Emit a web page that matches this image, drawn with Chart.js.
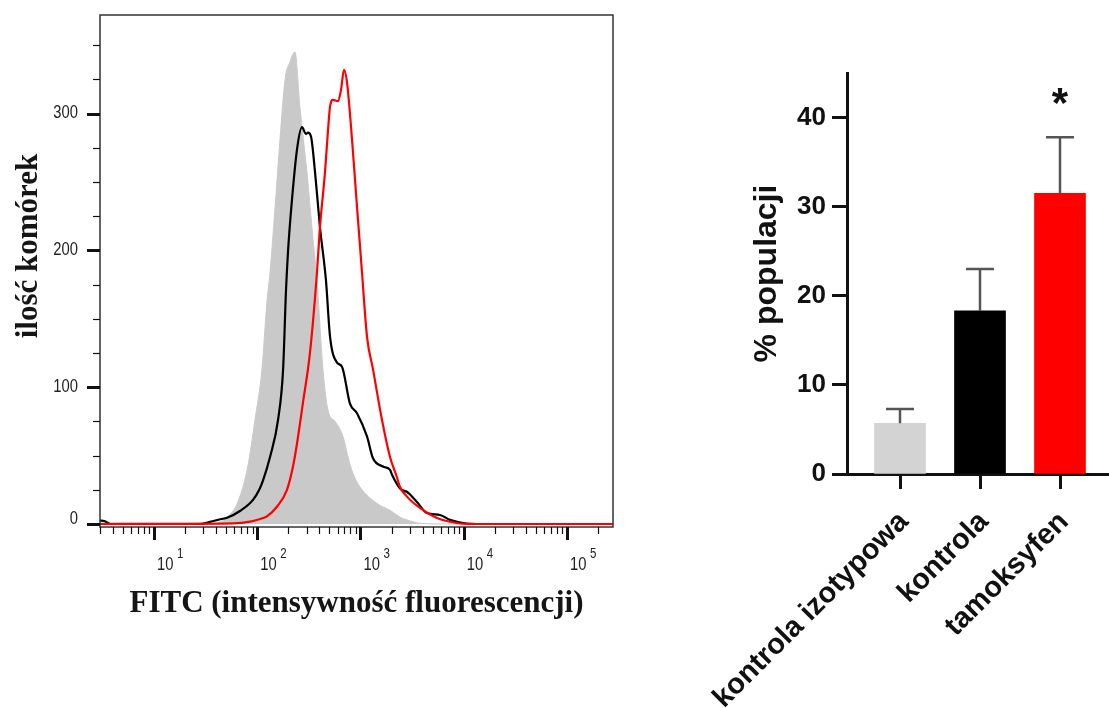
<!DOCTYPE html>
<html>
<head>
<meta charset="utf-8">
<script src="https://cdn.jsdelivr.net/npm/chart.js@4.4.1/dist/chart.umd.min.js"></script>
<style>
  html, body { margin: 0; padding: 0; background: #fff; }
  body { width: 1109px; height: 708px; position: relative; overflow: hidden; }
  #histBox { position: absolute; left: 0; top: 0; width: 640px; height: 708px; }
  #barBox { position: absolute; left: 680px; top: 0; width: 429px; height: 708px; }
</style>
</head>
<body>
<div id="histBox"><canvas id="histChart"></canvas></div>
<div id="barBox"><canvas id="barChart"></canvas></div>
<script>
// --- histogram (FITC intensity vs number of cells) ---
var isoX = [3, 28, 35, 44, 51, 64, 80, 95, 111, 124, 133, 149, 166, 186, 208, 232, 259, 303, 347, 379, 433, 485, 567, 677, 757, 846, 989, 1446, 1932, 2415, 2820, 3767, 5893, 279000];
var isoY = [0, 0, 0, 1.5, 5, 15, 40, 76, 113, 162, 184, 232, 281, 325, 338, 345, 305, 257, 208, 178, 113, 83, 75, 64, 49, 37, 27, 15, 10, 5, 3, 0.5, 0, 0];

var ctrlX = [3, 3.3, 3.8, 28, 35, 44, 51, 68, 91, 106, 114, 133, 159, 178, 190, 199, 217, 243, 271, 297, 310, 332, 363, 405, 463, 507, 592, 662, 791, 925, 1156, 1322, 1652, 1932, 2020, 2415, 2885, 3525, 4404, 5893, 7362, 9840, 15360, 279000];
var ctrlY = [2.5, 2.2, 0, 0, 1.5, 3.5, 4.5, 9.5, 17.6, 26, 32, 49, 76, 113, 171, 200, 237, 274, 290, 285, 286, 283, 257, 217, 178, 137, 118, 115, 88, 81, 64, 48, 42, 39.5, 36, 26, 23, 16, 8, 6.6, 3, 0.7, 0, 0];

var tamX = [3, 58, 85, 114, 124, 155, 194, 222, 243, 277, 324, 379, 405, 453, 485, 507, 542, 605, 650, 692, 740, 828, 925, 1034, 1156, 1322, 1616, 1932, 2258, 2415, 2820, 3767, 5507, 8602, 12300, 279000];
var tamY = [0, 0.5, 1.7, 4.4, 5.5, 12.6, 25, 42, 59, 88.5, 125, 184, 217, 257, 288, 305, 310, 309, 318, 332, 323, 281, 232, 184, 137, 113, 76, 49, 34, 27, 20, 11.7, 4.4, 0.7, 0, 0];

var countTicks = [0, 25, 50, 75, 100, 125, 150, 175, 200, 225, 250, 275, 300, 325, 350];
var countLabels = [0, 100, 200, 300];
var decadeLabels = [1, 2, 3, 4, 5];

// --- bar chart (% of population) ---
var groups = ['kontrola izotypowa', 'kontrola', 'tamoksyfen'];
var meanPct = [5.7, 18.3, 31.5];
var semPct = [1.6, 4.7, 6.3];
var barColors = ['#d3d3d3', '#000000', '#ff0000'];
var pctTicks = [0, 10, 20, 30, 40];
var marks = ['', '', '*'];

function toPoints(xs, ys) {
  var pts = [];
  for (var i = 0; i < xs.length; i++) pts.push({x: xs[i], y: ys[i]});
  return pts;
}

function narrowText(ctx, text, x, y, scale) {
  ctx.save();
  ctx.translate(x, y);
  ctx.scale(scale, 1);
  ctx.fillText(text, 0, 0);
  ctx.restore();
}

var histAxes = {
  id: 'histAxes',
  afterDraw: function(chart) {
    var ctx = chart.ctx, a = chart.chartArea;
    var xs = chart.scales.x, ys = chart.scales.y;
    ctx.save();
    ctx.strokeStyle = '#333';
    ctx.lineWidth = 1.5;
    ctx.strokeRect(a.left, a.top, a.right - a.left, a.bottom - a.top);

    // y ticks
    ctx.strokeStyle = '#111';
    countTicks.forEach(function(v) {
      var y = Math.round(ys.getPixelForValue(v)) + 0.5;
      var major = countLabels.indexOf(v) >= 0;
      ctx.lineWidth = major ? 3 : 1.2;
      ctx.beginPath();
      ctx.moveTo(a.left - (major ? 13 : 7), y);
      ctx.lineTo(a.left, y);
      ctx.stroke();
    });
    ctx.fillStyle = '#222';
    ctx.font = '18px "Liberation Sans", Arial, sans-serif';
    ctx.textAlign = 'right';
    ctx.textBaseline = 'middle';
    countLabels.forEach(function(v) {
      var y = ys.getPixelForValue(v);
      if (v === 0) y -= 5;
      narrowText(ctx, String(v), a.left - 22, y, 0.82);
    });

    // x ticks (log decades)
    for (var e = 0; e <= 5; e++) {
      for (var m = 1; m <= 9; m++) {
        var v = m * Math.pow(10, e);
        if (v < xs.min || v > xs.max) continue;
        var x = Math.round(xs.getPixelForValue(v)) + 0.5;
        ctx.lineWidth = m === 1 ? 3 : 1.2;
        ctx.beginPath();
        ctx.moveTo(x, a.bottom);
        ctx.lineTo(x, a.bottom + (m === 1 ? 13 : 7));
        ctx.stroke();
      }
    }
    ctx.textAlign = 'left';
    ctx.textBaseline = 'alphabetic';
    decadeLabels.forEach(function(p) {
      var x = xs.getPixelForValue(Math.pow(10, p));
      ctx.font = '18px "Liberation Sans", Arial, sans-serif';
      narrowText(ctx, '10', x + 3, a.bottom + 43, 0.82);
      ctx.font = '14px "Liberation Sans", Arial, sans-serif';
      narrowText(ctx, String(p), x + 23, a.bottom + 31, 0.82);
    });

    // axis titles
    ctx.fillStyle = '#151515';
    ctx.font = 'bold 31px "Liberation Serif", "Times New Roman", serif';
    ctx.textAlign = 'center';
    ctx.fillText('FITC (intensywność fluorescencji)', (a.left + a.right) / 2, 612);
    ctx.save();
    ctx.translate(37, 246);
    ctx.rotate(-Math.PI / 2);
    ctx.fillText('ilość komórek', 0, 0);
    ctx.restore();
    ctx.restore();
  }
};

new Chart(document.getElementById('histChart'), {
  type: 'line',
  data: {
    datasets: [
      { label: 'kontrola izotypowa', data: toPoints(isoX, isoY), fill: {value: 0},
        backgroundColor: '#c9c9c9', borderColor: '#c9c9c9', borderWidth: 1,
        pointRadius: 0, cubicInterpolationMode: 'monotone', order: 3 },
      { label: 'kontrola', data: toPoints(ctrlX, ctrlY), fill: false,
        borderColor: '#000000', borderWidth: 2.2,
        pointRadius: 0, cubicInterpolationMode: 'monotone', order: 2 },
      { label: 'tamoksyfen', data: toPoints(tamX, tamY), fill: false,
        borderColor: '#ff0000', borderWidth: 2.2,
        pointRadius: 0, cubicInterpolationMode: 'monotone', order: 1 }
    ]
  },
  options: {
    responsive: true,
    maintainAspectRatio: false,
    animation: false,
    layout: { padding: { top: 15, right: 27, left: 0, bottom: 0 } },
    plugins: { legend: { display: false }, tooltip: { enabled: false } },
    scales: {
      x: { type: 'logarithmic', min: 3, max: 279000,
           grid: { display: false }, border: { display: false }, ticks: { display: false },
           afterFit: function(s) { s.height = 181; } },
      y: { type: 'linear', min: -2.2, max: 372,
           grid: { display: false }, border: { display: false }, ticks: { display: false },
           afterFit: function(s) { s.width = 100; } }
    }
  },
  plugins: [histAxes]
});

var errorBars = {
  id: 'errorBars',
  afterDatasetsDraw: function(chart) {
    var ctx = chart.ctx, xs = chart.scales.x, ys = chart.scales.y;
    ctx.save();
    ctx.strokeStyle = '#555';
    ctx.lineWidth = 2.5;
    meanPct.forEach(function(m, i) {
      var x = xs.getPixelForValue(i);
      var y0 = ys.getPixelForValue(m);
      var y1 = ys.getPixelForValue(m + semPct[i]);
      ctx.beginPath();
      ctx.moveTo(x, y0);
      ctx.lineTo(x, y1);
      ctx.moveTo(x - 14, y1);
      ctx.lineTo(x + 14, y1);
      ctx.stroke();
      if (marks[i]) {
        ctx.fillStyle = '#111';
        ctx.font = 'bold 42px "Liberation Sans", Arial, sans-serif';
        ctx.textAlign = 'center';
        ctx.textBaseline = 'alphabetic';
        ctx.fillText(marks[i], x, y1 - 20);
      }
    });
    ctx.restore();
  }
};

var axisFont = '"Liberation Sans", Arial, sans-serif';

new Chart(document.getElementById('barChart'), {
  type: 'bar',
  data: {
    datasets: [{
      label: '% populacji',
      data: groups.map(function(g, i) { return {x: i, y: meanPct[i]}; }),
      backgroundColor: barColors,
      borderWidth: 0,
      barThickness: 51
    }]
  },
  options: {
    responsive: true,
    maintainAspectRatio: false,
    animation: false,
    layout: { padding: { top: 73, right: 0, left: 0, bottom: 0 } },
    plugins: { legend: { display: false }, tooltip: { enabled: false } },
    scales: {
      x: { type: 'linear', min: -0.6625, max: 2.6125, offset: false,
           afterBuildTicks: function(s) { s.ticks = groups.map(function(g, i) { return {value: i}; }); },
           ticks: { autoSkip: false, minRotation: 45, maxRotation: 45, padding: 16, labelOffset: 4,
                    color: '#111', font: { family: axisFont, weight: 'bold', size: 29 },
                    callback: function(v) { return groups[v]; } },
           grid: { offset: false, drawOnChartArea: false, tickLength: 15, tickWidth: 3, tickColor: '#111' },
           border: { width: 3, color: '#111' },
           afterFit: function(s) { s.height = 234; s.paddingLeft = 0; s.paddingRight = 0; } },
      y: { min: 0, max: 45,
           afterBuildTicks: function(s) { s.ticks = pctTicks.map(function(v) { return {value: v}; }); },
           ticks: { padding: 6, color: '#111', font: { family: axisFont, weight: 'bold', size: 26 } },
           grid: { drawOnChartArea: false, tickLength: 15, tickWidth: 3, tickColor: '#111' },
           border: { width: 3, color: '#111' },
           title: { display: true, text: '% populacji', color: '#111',
                    font: { family: axisFont, weight: 'bold', size: 32 },
                    padding: { top: 68, bottom: 0 } },
           afterFit: function(s) { s.width = 167; } }
    }
  },
  plugins: [errorBars]
});
</script>
</body>
</html>
